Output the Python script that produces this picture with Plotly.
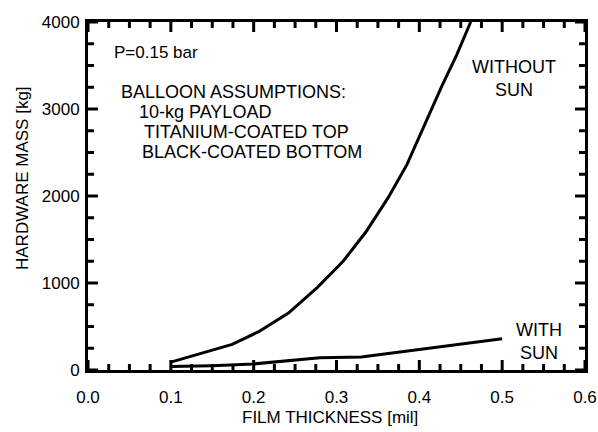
import plotly.graph_objects as go

# Data
without_sun_x = [0.10, 0.135, 0.174, 0.206, 0.242, 0.277, 0.308, 0.335, 0.362, 0.385, 0.407, 0.427, 0.445, 0.462]
without_sun_y = [90, 190, 295, 440, 655, 950, 1250, 1580, 1975, 2360, 2830, 3260, 3620, 4000]

with_sun_x = [0.10, 0.15, 0.20, 0.25, 0.28, 0.33, 0.40, 0.45, 0.50]
with_sun_y = [40, 50, 70, 110, 140, 150, 235, 300, 360]

x_ticks = [0.0, 0.1, 0.2, 0.3, 0.4, 0.5, 0.6]
x_tick_labels = ["0.0", "0.1", "0.2", "0.3", "0.4", "0.5", "0.6"]
y_ticks = [0, 1000, 2000, 3000, 4000]
y_tick_labels = ["0", "1000", "2000", "3000", "4000"]
x_minor_per_major = 4   # minor tick every 0.025
y_minor_per_major = 4   # minor tick every 250

x_range = [x_ticks[0], x_ticks[-1]]
y_range = [y_ticks[0], y_ticks[-1]]

FONT = "Liberation Sans, Arial, sans-serif"
W, H = 598, 432
L, R, T, B = 88, 13, 22, 62
MAJOR_LEN_PX, MINOR_LEN_PX = 10, 6


def minor_positions(major, n):
    out = []
    for a, b in zip(major[:-1], major[1:]):
        for k in range(1, n):
            out.append(a + (b - a) * k / n)
    return out


x_minor = minor_positions(x_ticks, x_minor_per_major)
y_minor = minor_positions(y_ticks, y_minor_per_major)

pw, ph = W - L - R, H - T - B
x_per_px = (x_range[1] - x_range[0]) / pw
y_per_px = (y_range[1] - y_range[0]) / ph

fig = go.Figure()
fig.add_trace(go.Scatter(x=without_sun_x, y=without_sun_y, mode="lines",
                         line=dict(color="black", width=3), showlegend=False, hoverinfo="skip"))
fig.add_trace(go.Scatter(x=with_sun_x, y=with_sun_y, mode="lines",
                         line=dict(color="black", width=3), showlegend=False, hoverinfo="skip"))

# inward tick marks on all four frame sides, built as short line segments from the tick lists
tx, ty = [], []
for xs, lp in ((x_ticks, MAJOR_LEN_PX), (x_minor, MINOR_LEN_PX)):
    d = lp * y_per_px
    for v in xs:
        tx += [v, v, None, v, v, None]
        ty += [y_range[0], y_range[0] + d, None, y_range[1], y_range[1] - d, None]
for ys, lp in ((y_ticks, MAJOR_LEN_PX), (y_minor, MINOR_LEN_PX)):
    d = lp * x_per_px
    for v in ys:
        tx += [x_range[0], x_range[0] + d, None, x_range[1], x_range[1] - d, None]
        ty += [v, v, None, v, v, None]
fig.add_trace(go.Scatter(x=tx, y=ty, mode="lines", line=dict(color="black", width=3),
                         showlegend=False, hoverinfo="skip", connectgaps=False))

tickfont = dict(family=FONT, size=17, color="black")
axis_common = dict(showgrid=False, zeroline=False, showline=True, linecolor="black", linewidth=3,
                   mirror=True, ticks="", tickfont=tickfont, automargin=False,
                   ticklabeloverflow="allow", layer="above traces")

fig.update_xaxes(range=x_range, tickmode="array", tickvals=x_ticks, ticktext=x_tick_labels,
                 ticklabelstandoff=10, **axis_common)
fig.update_yaxes(range=y_range, tickmode="array", tickvals=y_ticks, ticktext=y_tick_labels,
                 ticklabelstandoff=2, **axis_common)

ann_font = dict(family=FONT, size=18, color="black")
annotations = [
    dict(x=0.029, y=3655, text="P=0.15 bar", xanchor="left", yanchor="middle",
         font=dict(family=FONT, size=17, color="black")),
    dict(x=0.038, y=3195, text="BALLOON ASSUMPTIONS:", xanchor="left", yanchor="middle", font=ann_font),
    dict(x=0.059, y=2965, text="10-kg PAYLOAD", xanchor="left", yanchor="middle", font=ann_font),
    dict(x=0.065, y=2736, text="TITANIUM-COATED TOP", xanchor="left", yanchor="middle", font=ann_font),
    dict(x=0.063, y=2506, text="BLACK-COATED BOTTOM", xanchor="left", yanchor="middle", font=ann_font),
    dict(x=0.514, y=3345, text="WITHOUT<br>SUN", xanchor="center", yanchor="middle", font=ann_font),
    dict(x=0.545, y=328, text="WITH<br>SUN", xanchor="center", yanchor="middle", font=ann_font),
]
for a in annotations:
    a.update(xref="x", yref="y", showarrow=False, align="center")

annotations.append(dict(xref="paper", yref="paper", x=(330 - L) / pw, y=-(417 - (H - B)) / ph,
                        text="FILM THICKNESS [mil]", showarrow=False, xanchor="center", yanchor="middle",
                        font=dict(family=FONT, size=17, color="black")))
annotations.append(dict(xref="paper", yref="paper", x=-(L - 22) / pw, y=((H - B) - 178) / ph,
                        text="HARDWARE MASS [kg]", showarrow=False, xanchor="center", yanchor="middle",
                        textangle=-90, font=dict(family=FONT, size=17, color="black")))

fig.update_layout(
    annotations=annotations,
    width=W, height=H,
    margin=dict(l=L, r=R, t=T, b=B, autoexpand=False),
    plot_bgcolor="white", paper_bgcolor="white",
    font=dict(family=FONT, color="black"),
    showlegend=False,
)

fig.write_html("out.html",
               config={"displayModeBar": False, "staticPlot": True},
               post_script="document.body.style.margin='0';document.body.style.overflow='hidden';")
